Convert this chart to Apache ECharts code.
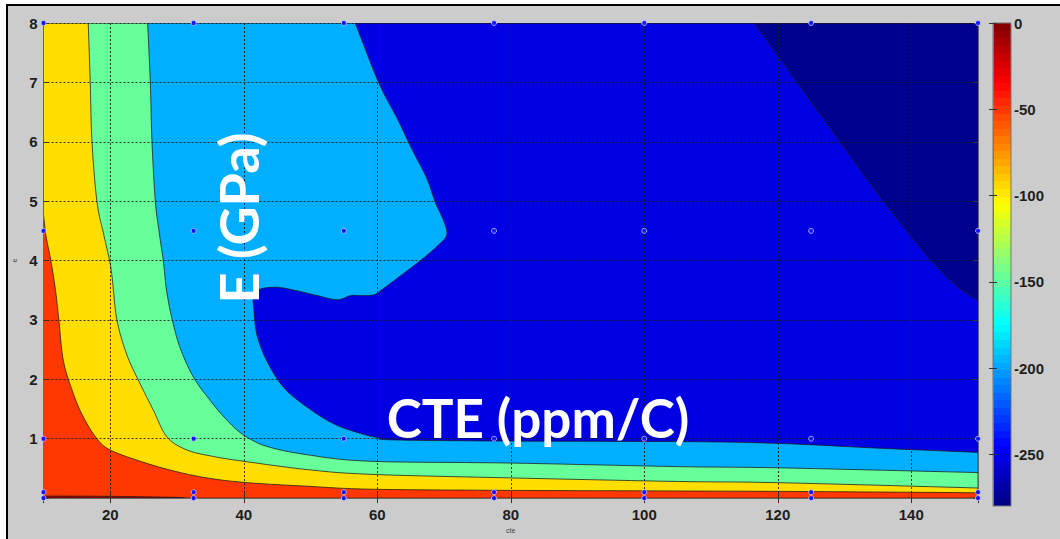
<!DOCTYPE html>
<html>
<head>
<meta charset="utf-8">
<script src="https://cdn.jsdelivr.net/npm/echarts@6/dist/echarts.min.js"></script>
<style>
html,body{margin:0;padding:0;background:#ffffff;}
#chart{width:1060px;height:539px;}
</style>
</head>
<body>
<div id="chart"></div>
<script>
// ---- data ----
const xTickLabels = [20, 40, 60, 80, 100, 120, 140];
const yTickLabels = [1, 2, 3, 4, 5, 6, 7, 8];
const colorbarTicks = [0, -50, -100, -150, -200, -250];
const sampleX = [10, 32.5, 55, 77.5, 100, 125, 150];
const sampleY = [0, 0.1, 1, 4.5, 8];

// contour boundaries (cte, e)
const edgeDarkRed = [[10, 0.035], [20, 0.03], [30, 0.012], [31, 0]];
const edgeRedYellow = [[10, 4.77], [10.4, 4.4], [11.1, 4.0], [11.8, 3.5], [12.3, 3.0], [13.0, 2.3], [14.5, 1.75], [15.95, 1.37], [18.0, 1.0], [20, 0.81], [24.5, 0.62], [29.4, 0.46], [34.5, 0.34], [40.5, 0.26], [49.5, 0.2], [59, 0.15], [80, 0.13], [105, 0.12], [125, 0.11], [150, 0.09]];
const edgeYellowGreen = [[16.7, 8], [17.0, 7.0], [17.26, 6.0], [18.0, 5.0], [19.0, 4.45], [19.9, 4.0], [20.3, 3.7], [21.0, 3.0], [22.5, 2.41], [24.5, 1.92], [26.5, 1.47], [28.5, 1.03], [31.5, 0.81], [35.5, 0.7], [40, 0.62], [49.5, 0.48], [59, 0.4], [80, 0.34], [105, 0.28], [120, 0.26], [150, 0.17]];
const edgeGreenCyan = [[25.6, 8], [26.0, 7.0], [26.25, 6.0], [26.75, 5.0], [27.3, 4.5], [28.0, 3.95], [28.4, 3.52], [29.25, 3.02], [30.5, 2.52], [32.5, 2.03], [35.0, 1.64], [37.5, 1.31], [40.0, 1.06], [43.5, 0.87], [49.5, 0.73], [59, 0.62], [80, 0.59], [105, 0.53], [120, 0.51], [150, 0.43]];
const edgeCyanBlue = [[56.7, 8], [60.2, 7.0], [63.0, 6.39], [65.3, 5.85], [67.4, 5.39], [68.7, 4.98], [69.9, 4.68], [70.4, 4.43], [68.95, 4.24], [66.7, 4.02], [63.45, 3.74], [60.45, 3.49], [59.4, 3.42], [57.5, 3.41], [56, 3.41], [54, 3.34], [51, 3.41], [48, 3.49], [45, 3.55], [42.5, 3.52], [41.5, 3.41], [41.5, 3.19], [42.0, 2.74], [43.5, 2.3], [46.0, 1.86], [49.5, 1.53], [53.5, 1.25], [57.45, 1.09], [60, 1.02], [62.4, 0.98], [79.9, 0.96], [106.9, 0.95], [120.4, 0.92], [135.3, 0.84], [150, 0.77]];
const edgeBlueNavy = [[116.5, 8], [121, 7.3], [125.5, 6.6], [130, 5.9], [134.5, 5.2], [139, 4.55], [143, 4.0], [146.5, 3.6], [150, 3.33]];

// value of each filled band (colour-bar units)
const bandValues = [-50, -12, -96, -147, -197, -253, -276];

// ---- helpers ----
function jet(t) {
  const c = v => Math.round(255 * Math.max(0, Math.min(1, v)));
  return 'rgb(' + c(Math.min(4 * t - 1.5, -4 * t + 4.5)) + ',' + c(Math.min(4 * t - 0.5, -4 * t + 3.5)) + ',' + c(Math.min(4 * t + 0.5, -4 * t + 2.5)) + ')';
}
// Catmull-Rom densification of a pixel polyline (drawing only)
function smoothPixels(p, n) {
  if (p.length < 3) return p.slice();
  const out = [];
  for (let i = 0; i < p.length - 1; i++) {
    const p0 = p[Math.max(i - 1, 0)], p1 = p[i], p2 = p[i + 1], p3 = p[Math.min(i + 2, p.length - 1)];
    for (let s = 0; s < n; s++) {
      const t = s / n, t2 = t * t, t3 = t2 * t;
      const f = k => 0.5 * (2 * p1[k] + (-p0[k] + p2[k]) * t + (2 * p0[k] - 5 * p1[k] + 4 * p2[k] - p3[k]) * t2 + (-p0[k] + 3 * p1[k] - 3 * p2[k] + p3[k]) * t3);
      out.push([f(0), f(1)]);
    }
  }
  out.push(p[p.length - 1]);
  return out;
}
const cMin = -280, cMax = 0;
// each band: a curved edge plus straight frame corners that close it
const bandEdges = [[[10, 0], [150, 0]], edgeDarkRed, edgeRedYellow, edgeYellowGreen, edgeGreenCyan, edgeCyanBlue, edgeBlueNavy];
const bandCorners = [[[150, 8], [10, 8]], [[10, 0]], [[150, 8], [10, 8]], [[150, 8]], [[150, 8]], [[150, 8]], [[150, 8]]];
const bandData = bandEdges.map((edge, i) => [edge[0][0], edge[0][1], i, bandValues[i]]);

const dots = [];
sampleX.forEach(x => sampleY.forEach(y => dots.push([x, y])));

// colour bar gradient (64 step jet)
const stops = [];
for (let i = 0; i < 64; i++) {
  const col = jet((63 - i + 0.5) / 64);
  stops.push({offset: i / 64, color: col});
  stops.push({offset: (i + 1) / 64, color: col});
}

const labelFont = {fontFamily: 'Liberation Sans, Arial, sans-serif', fontWeight: 'bold', fontSize: 15, color: '#1e1e1e'};

const chart = echarts.init(document.getElementById('chart'), null, {renderer: 'svg'});
chart.setOption({
  animation: false,
  backgroundColor: 'transparent',
  grid: [
    {left: 43.5, right: 82, top: 23, bottom: 33.5},
    {left: 993, width: 18, top: 23, bottom: 33}
  ],
  xAxis: [
    {type: 'value', gridIndex: 0, min: 10, max: 150, splitNumber: 7, position: 'bottom', z: 5,
      name: 'cte', nameLocation: 'middle', nameGap: 24, nameTextStyle: {fontSize: 7, color: '#444'},
      axisLine: {show: true, lineStyle: {color: '#666', width: 1}},
      axisTick: {show: true, inside: true, length: 5, lineStyle: {color: '#333'}},
      axisLabel: Object.assign({margin: 9, showMinLabel: false, showMaxLabel: false,
        formatter: v => xTickLabels.indexOf(v) >= 0 ? String(v) : ''}, labelFont),
      splitLine: {show: true, lineStyle: {type: [2, 2], color: '#1a1a1a', width: 1, opacity: 0.85}}},
    {type: 'value', gridIndex: 0, min: 10, max: 150, splitNumber: 7, position: 'top', z: 5,
      axisLine: {show: true, lineStyle: {color: '#666', width: 1}},
      axisTick: {show: true, inside: true, length: 5, lineStyle: {color: '#333'}},
      axisLabel: {show: false}, splitLine: {show: false}},
    {type: 'value', gridIndex: 1, min: 0, max: 1, show: false}
  ],
  yAxis: [
    {type: 'value', gridIndex: 0, min: 0, max: 8, interval: 1, position: 'left', z: 5,
      name: 'e', nameLocation: 'middle', nameGap: 18, nameTextStyle: {fontSize: 7, color: '#444'},
      axisLine: {show: true, lineStyle: {color: '#666', width: 1}},
      axisTick: {show: true, inside: true, length: 5, lineStyle: {color: '#333'}},
      axisLabel: Object.assign({margin: 6, formatter: v => yTickLabels.indexOf(v) >= 0 ? String(v) : ''}, labelFont),
      splitLine: {show: true, lineStyle: {type: [2, 2], color: '#1a1a1a', width: 1, opacity: 0.85}}},
    {type: 'value', gridIndex: 0, min: 0, max: 8, interval: 1, position: 'right', z: 5,
      axisLine: {show: true, lineStyle: {color: '#666', width: 1}},
      axisTick: {show: true, inside: true, length: 5, lineStyle: {color: '#333'}},
      axisLabel: {show: false}, splitLine: {show: false}},
    {type: 'value', gridIndex: 1, min: cMin, max: cMax, position: 'right', z: 5,
      axisLine: {show: true, lineStyle: {color: '#777', width: 1}},
      axisTick: {show: true, inside: true, length: 4, customValues: colorbarTicks, lineStyle: {color: '#333'}},
      axisLabel: Object.assign({margin: 3, customValues: colorbarTicks}, labelFont),
      splitLine: {show: false}},
    {type: 'value', gridIndex: 1, min: cMin, max: cMax, position: 'left', z: 5,
      axisLine: {show: true, lineStyle: {color: '#777', width: 1}},
      axisTick: {show: true, inside: true, length: 4, customValues: colorbarTicks, lineStyle: {color: '#333'}},
      axisLabel: {show: false}, splitLine: {show: false}}
  ],
  series: [
    {
      type: 'custom', xAxisIndex: 0, yAxisIndex: 0, z: 2, clip: true,
      encode: {x: 0, y: 1},
      data: bandData,
      renderItem: function (params, api) {
        const idx = api.value(2);
        const val = api.value(3);
        const edgePx = bandEdges[idx].map(p => api.coord(p));
        const pts = smoothPixels(edgePx, 10).concat(bandCorners[idx].map(p => api.coord(p)));
        return {
          type: 'polygon',
          shape: {points: pts},
          style: {fill: jet((val - cMin) / (cMax - cMin)), stroke: '#1c1c1c', lineWidth: 0.9, strokeOpacity: 0.85}
        };
      }
    },
    {
      type: 'scatter', xAxisIndex: 0, yAxisIndex: 0, z: 6, clip: false,
      data: dots, symbol: 'circle', symbolSize: 5,
      itemStyle: {color: '#1414ff', borderColor: 'rgba(210,210,255,0.75)', borderWidth: 1, opacity: 1}
    },
    {
      type: 'custom', xAxisIndex: 2, yAxisIndex: 2, z: 2,
      data: [[0, cMin, 1, cMax]],
      renderItem: function (params, api) {
        const a = api.coord([0, cMax]);
        const b = api.coord([1, cMin]);
        return {
          type: 'rect',
          shape: {x: a[0], y: a[1], width: b[0] - a[0], height: b[1] - a[1]},
          style: {fill: {type: 'linear', x: 0, y: 0, x2: 0, y2: 1, colorStops: stops}, stroke: '#777', lineWidth: 1}
        };
      }
    }
  ],
  graphic: [
    {type: 'rect', z: -10, silent: true, shape: {x: 7, y: 5, width: 1100, height: 600},
      style: {fill: '#cccccc', stroke: '#000000', lineWidth: 2}},
    {type: 'text', z: 100, x: 538, y: 417,
      style: {text: 'CTE (ppm/C)', fill: '#ffffff', font: 'bold 53px Lato, "Open Sans", sans-serif', align: 'center', verticalAlign: 'middle', textAlign: 'center', textVerticalAlign: 'middle'}},
    {type: 'text', z: 100, x: 238, y: 218, rotation: Math.PI / 2,
      style: {text: 'E (GPa)', fill: '#ffffff', font: 'bold 54px Lato, "Open Sans", sans-serif', align: 'center', verticalAlign: 'middle', textAlign: 'center', textVerticalAlign: 'middle'}}
  ]
});
</script>
</body>
</html>
